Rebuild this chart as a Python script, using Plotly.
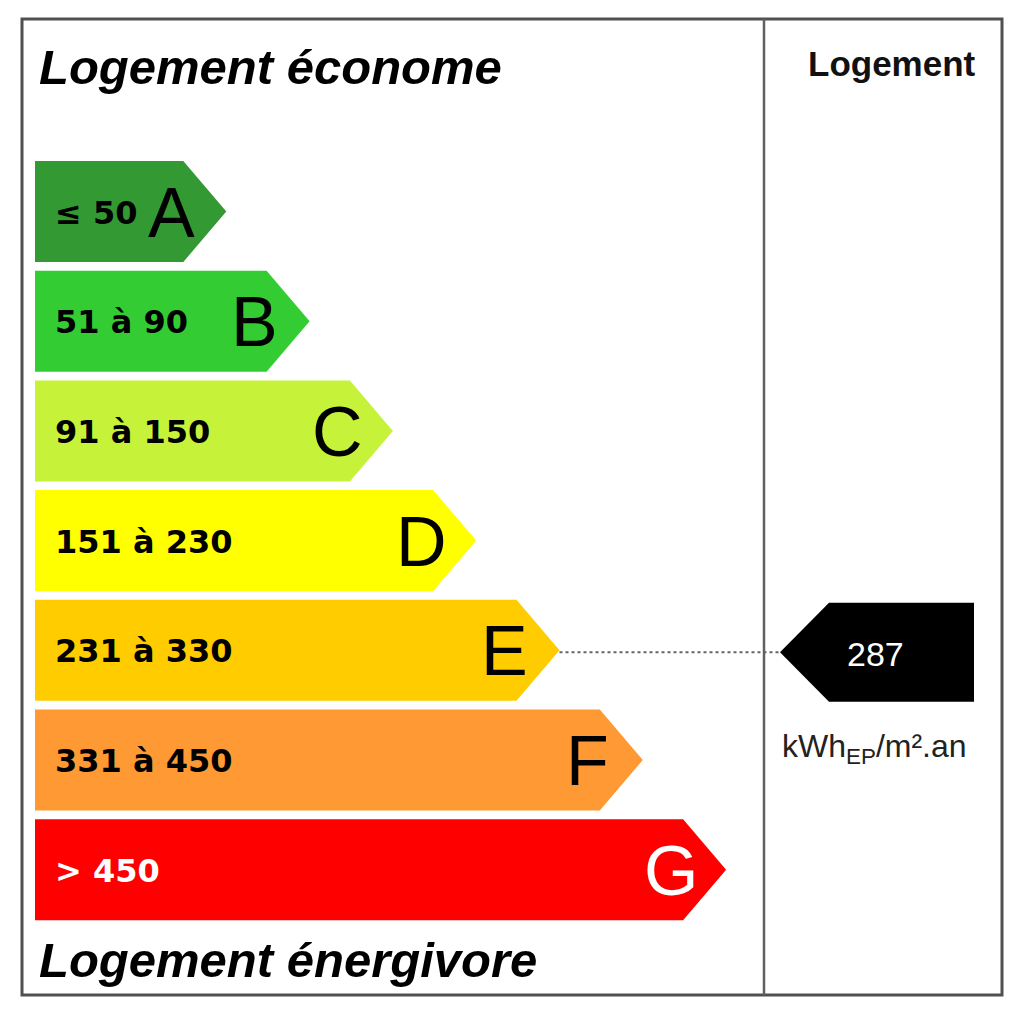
import plotly.graph_objects as go

# ---- data ----
classes = ["A", "B", "C", "D", "E", "F", "G"]
ranges = ["≤ 50", "51 à 90", "91 à 150", "151 à 230", "231 à 330", "331 à 450", "> 450"]
upper_bounds = [50, 90, 150, 230, 330, 450]
colors = ["#339933", "#33cc33", "#c6f33a", "#ffff00", "#ffcc00", "#ff9933", "#ff0000"]
text_colors = ["black", "black", "black", "black", "black", "black", "white"]
value = 287
unit_label = "kWh<sub>EP</sub>/m².an"
title_top = "Logement économe"
title_bottom = "Logement énergivore"
column_title = "Logement"

# ---- layout geometry (pixel-like axis units) ----
W, H = 1024, 1017
LEFT = 35
ROW_TOP0 = 161
ROW_PITCH = 109.7
ROW_H = 101
END0 = 100
STEP = 83.3
TIP = 43

fig = go.Figure()
annotations = []

def row_top(i):
    return ROW_TOP0 + ROW_PITCH * i

for i, (cls, rng, col, tc) in enumerate(zip(classes, ranges, colors, text_colors)):
    top = row_top(i)
    bot = top + ROW_H
    mid = (top + bot) / 2
    end = END0 + STEP * (i + 1)
    xs = [LEFT, end, end + TIP, end, LEFT, LEFT]
    ys = [top, top, mid, bot, bot, top]
    fig.add_trace(go.Scatter(x=xs, y=ys, mode="lines", fill="toself",
                             fillcolor=col, line=dict(width=0, color=col),
                             hoverinfo="skip", showlegend=False))
    annotations.append(dict(x=53, y=mid + 1, xanchor="left", yanchor="middle",
                            text="<b>" + rng + "</b>", showarrow=False,
                            font=dict(family="DejaVu Sans", size=32, color=tc)))
    annotations.append(dict(x=end - 12, y=mid + 1, xanchor="center", yanchor="middle",
                            text=cls, showarrow=False,
                            font=dict(family="Liberation Sans", size=70, color=tc)))

# value class
vi = sum(1 for b in upper_bounds if value > b)
vtop = row_top(vi) + 3
vbot = vtop + ROW_H - 2
vmid = (vtop + vbot) / 2
A_TIP = 780
A_CORNER = 829
A_RIGHT = 974
fig.add_trace(go.Scatter(x=[A_TIP, A_CORNER, A_RIGHT, A_RIGHT, A_CORNER, A_TIP],
                         y=[vmid, vtop, vtop, vbot, vbot, vmid],
                         mode="lines", fill="toself", fillcolor="black",
                         line=dict(width=0, color="black"),
                         hoverinfo="skip", showlegend=False))
annotations.append(dict(x=875, y=vmid + 2, xanchor="center", yanchor="middle",
                        text=str(value), showarrow=False,
                        font=dict(family="Liberation Sans", size=34, color="white")))
# dotted connector
vend = END0 + STEP * (vi + 1) + TIP
fig.add_trace(go.Scatter(x=[vend, A_TIP], y=[vmid, vmid], mode="lines",
                         line=dict(color="#666666", width=2, dash="dot"),
                         hoverinfo="skip", showlegend=False))

annotations.append(dict(x=874, y=748, xanchor="center", yanchor="middle",
                        text=unit_label, showarrow=False,
                        font=dict(family="Liberation Sans", size=32, color="#222222")))
annotations.append(dict(x=892, y=63, xanchor="center", yanchor="middle",
                        text="<b>" + column_title + "</b>", showarrow=False,
                        font=dict(family="Liberation Sans", size=35, color="#111111")))
annotations.append(dict(x=37, y=67, xanchor="left", yanchor="middle",
                        text="<b><i>" + title_top + "</i></b>", showarrow=False,
                        font=dict(family="Liberation Sans", size=49, color="black")))
annotations.append(dict(x=37, y=960, xanchor="left", yanchor="middle",
                        text="<b><i>" + title_bottom + "</i></b>", showarrow=False,
                        font=dict(family="Liberation Sans", size=49, color="black")))

shapes = [
    dict(type="rect", x0=22, y0=19, x1=1002, y1=995, xref="x", yref="y",
         line=dict(color="#505050", width=3)),
    dict(type="line", x0=764, y0=19, x1=764, y1=995, xref="x", yref="y",
         line=dict(color="#606060", width=2.5)),
]

fig.update_layout(
    width=W, height=H,
    margin=dict(l=0, r=0, t=0, b=0),
    paper_bgcolor="white", plot_bgcolor="white",
    xaxis=dict(range=[0, W], visible=False, fixedrange=True),
    yaxis=dict(range=[H, 0], visible=False, fixedrange=True),
    annotations=annotations, shapes=shapes, showlegend=False,
)

fig.write_html("out.html", config={"displayModeBar": False},
               post_script="document.body.style.margin='0';")
